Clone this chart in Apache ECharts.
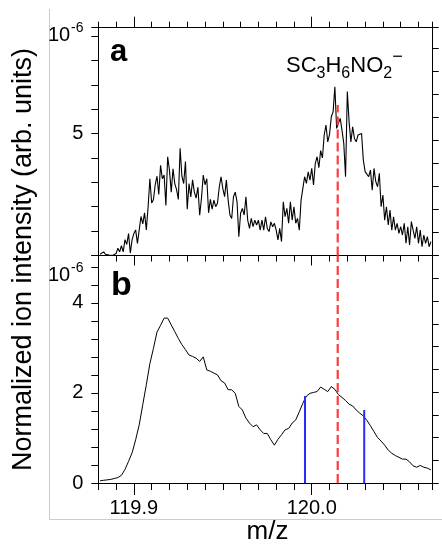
<!DOCTYPE html>
<html>
<head>
<meta charset="utf-8">
<script src="https://cdn.jsdelivr.net/npm/echarts@6/dist/echarts.min.js"></script>
<style>
  html, body { margin: 0; padding: 0; background: #fff; }
  #chart { width: 442px; height: 546px; }
</style>
</head>
<body>
<div id="chart"></div>
<script>
// spectra sampled on a regular m/z grid
var mzStart = 119.881;
var mzStepA = 0.001;
var mzStepB = 0.002;

// panel a (x 1e-6)
var intensityA = [
  0.05, 0.08, 0.15, 0.05, 0.05, 0.02, 0.0, 0.0, 0.03, 0.08,
  0.3, 0.15, 0.4, 0.15, 0.65, 0.45, 0.9, 0.1, 0.65, 0.9,
  1.05, 0.5, 1.05, 1.6, 1.3, 1.75, 1.05, 2.0, 3.15, 2.15,
  2.3, 2.9, 3.25, 2.5, 3.7, 3.15, 3.3, 2.05, 4.05, 3.5,
  2.6, 3.55, 2.95, 2.7, 2.3, 4.4, 3.25, 2.95, 3.85, 1.9,
  2.95, 2.4, 3.1, 2.6, 2.35, 2.8, 1.65, 2.35, 3.3, 2.9,
  3.15, 1.75, 2.3, 1.9, 2.27, 2.0, 2.14, 2.8, 3.23, 2.75,
  2.41, 3.09, 2.27, 1.66, 1.52, 2.41, 2.6, 2.2, 0.77, 1.73,
  1.93, 1.66, 2.41, 1.45, 1.11, 1.52, 1.18, 1.45, 1.25, 1.45,
  1.04, 1.45, 1.04, 1.59, 1.11, 0.98, 1.38, 1.18, 1.32, 1.04,
  0.64, 1.11, 0.57, 2.2, 1.59, 1.93, 1.32, 2.2, 1.45, 2.0,
  1.32, 1.52, 1.04, 2.27, 2.75, 3.23, 2.96, 3.43, 3.09, 3.57,
  2.89, 3.78, 4.05, 3.6, 4.3, 4.0, 4.94, 5.35, 4.66, 4.97,
  5.69, 5.89, 6.92, 5.21, 5.42, 5.62, 5.14, 4.6, 3.23, 6.72,
  5.48, 4.66, 5.28, 4.8, 4.66, 4.94, 4.87, 5.0, 3.91, 3.44,
  3.37, 3.23, 3.5, 2.68, 3.57, 3.03, 2.82, 3.37, 2.0, 2.48,
  1.45, 2.0, 1.25, 1.86, 1.04, 1.59, 1.04, 1.32, 0.91, 1.18,
  0.84, 1.32, 0.5, 1.18, 0.43, 1.39, 1.04, 0.7, 1.18, 0.5,
  1.04, 0.36, 0.84, 0.5, 0.77, 0.36, 0.57
];

// panel b (x 1e-6)
var intensityB = [
  0.05, 0.06, 0.07, 0.08, 0.1, 0.12, 0.17, 0.3, 0.48, 0.67,
  0.96, 1.29, 1.74, 2.18, 2.65, 2.99, 3.35, 3.5, 3.66, 3.66,
  3.51, 3.36, 3.21, 3.07, 2.96, 2.84, 2.81, 2.77, 2.7, 2.8,
  2.51, 2.48, 2.44, 2.4, 2.27, 2.22, 2.07, 2.07, 1.99, 1.7,
  1.62, 1.44, 1.33, 1.25, 1.29, 1.18, 1.1, 1.1, 0.96, 0.84,
  0.97, 1.07, 1.18, 1.21, 1.33, 1.4, 1.58, 1.77, 1.93, 1.99,
  2.01, 2.03, 2.13, 2.08, 2.03, 2.14, 2.08, 1.96, 1.9, 1.83,
  1.75, 1.71, 1.62, 1.55, 1.49, 1.39, 1.27, 1.14, 1.01, 0.93,
  0.84, 0.73, 0.66, 0.61, 0.57, 0.53, 0.53, 0.47, 0.38, 0.35,
  0.39, 0.35, 0.33, 0.29
];

// SC3H6NO2- position and integration window
var peakMz = 120.0146;
var peakTopA = 6.17;
var peakTopB = 5.05;
var windowMz = [119.9962, 120.0295];
var windowTop = [1.93, 1.62];

// tick labels
var mzLabels = [119.9, 120.0];
var yLabelsA = [5];
var yLabelsB = [0, 2, 4];

var FONT = '"Liberation Sans", Arial, sans-serif';

function toPairs(vals, step) {
  return vals.map(function (v, i) {
    return [+(mzStart + i * step).toFixed(3), v];
  });
}

var chartDom = document.getElementById('chart');
var myChart = echarts.init(chartDom, null, { renderer: 'canvas' });

var line = { show: true, onZero: false, lineStyle: { color: '#000', width: 1 } };
var noLine = { show: false, onZero: false };
var tickStyle = { color: '#000', width: 1 };
var noLabel = { show: false };
var labelStyle = { color: '#000', fontSize: 20, fontFamily: FONT, margin: 15 };

function mzAxis(gridIndex, position, axisLine, axisTick, axisLabel, interval) {
  var ax = {
    type: 'value', gridIndex: gridIndex, position: position,
    min: 119.88, max: 120.068,
    axisLine: axisLine, axisTick: axisTick, axisLabel: axisLabel,
    splitLine: { show: false }
  };
  if (interval) ax.interval = interval;
  return ax;
}

var option = {
  animation: false,
  backgroundColor: '#fff',
  grid: [
    { left: 98.3, top: 27.7, width: 334.4, height: 227.8 },
    { left: 98.3, top: 255.5, width: 334.4, height: 227.5 }
  ],
  xAxis: [
    mzAxis(0, 'bottom', line, { show: false }, noLabel),
    mzAxis(0, 'top', line, { show: true, length: 6, lineStyle: tickStyle }, noLabel, 0.01),
    mzAxis(0, 'top', noLine, { show: true, length: 11, customValues: mzLabels, lineStyle: tickStyle }, noLabel),
    mzAxis(1, 'top', line, { show: true, inside: true, length: 6, lineStyle: tickStyle }, noLabel, 0.01),
    mzAxis(1, 'top', noLine, { show: true, inside: true, length: 10, customValues: mzLabels, lineStyle: tickStyle }, noLabel),
    mzAxis(1, 'bottom', line, { show: true, length: 7, lineStyle: tickStyle }, noLabel, 0.01),
    mzAxis(1, 'bottom', noLine, { show: true, length: 12, customValues: mzLabels, lineStyle: tickStyle },
      Object.assign({ show: true, customValues: mzLabels, formatter: function (v) { return v.toFixed(1); } }, labelStyle))
  ],
  yAxis: [
    {
      type: 'value', gridIndex: 0, position: 'left', min: 0, max: 9.34, interval: 1,
      axisLine: line, axisTick: { show: true, length: 7, lineStyle: tickStyle },
      axisLabel: Object.assign({
        formatter: function (v) { return yLabelsA.indexOf(Math.round(v * 1000) / 1000) >= 0 ? String(v) : ''; }
      }, labelStyle),
      splitLine: { show: false }
    },
    {
      type: 'value', gridIndex: 0, position: 'right', min: 0, max: 9.9, interval: 1,
      axisLine: line, axisTick: { show: true, length: 6, lineStyle: tickStyle },
      axisLabel: noLabel, splitLine: { show: false }
    },
    {
      type: 'value', gridIndex: 1, position: 'left', min: 0, max: 5.05, interval: 0.4,
      axisLine: line, axisTick: { show: true, length: 7, lineStyle: tickStyle },
      axisLabel: Object.assign({
        formatter: function (v) {
          var r = Math.round(v * 1000) / 1000;
          return yLabelsB.indexOf(r) >= 0 ? String(r) : '';
        }
      }, labelStyle),
      splitLine: { show: false }
    },
    {
      type: 'value', gridIndex: 1, position: 'right', min: 0, max: 10, interval: 1,
      axisLine: line, axisTick: { show: true, length: 6, lineStyle: tickStyle },
      axisLabel: noLabel, splitLine: { show: false }
    }
  ],
  series: [
    {
      type: 'line', xAxisIndex: 0, yAxisIndex: 0, data: toPairs(intensityA, mzStepA),
      symbol: 'none', lineStyle: { color: '#000', width: 1.1 }, silent: true
    },
    {
      type: 'line', xAxisIndex: 5, yAxisIndex: 2, data: toPairs(intensityB, mzStepB),
      symbol: 'none', lineStyle: { color: '#000', width: 1 }, silent: true
    },
    {
      type: 'line', xAxisIndex: 0, yAxisIndex: 0, data: [[peakMz, 0], [peakMz, peakTopA]],
      symbol: 'none', lineStyle: { color: '#ff3b3b', width: 2.2, type: [9, 4] }, z: 5, silent: true
    },
    {
      type: 'line', xAxisIndex: 5, yAxisIndex: 2, data: [[peakMz, 0], [peakMz, peakTopB]],
      symbol: 'none', lineStyle: { color: '#ff3b3b', width: 2.2, type: [9, 4] }, z: 5, silent: true
    },
    {
      type: 'line', xAxisIndex: 5, yAxisIndex: 2, data: [[windowMz[0], 0], [windowMz[0], windowTop[0]]],
      symbol: 'none', lineStyle: { color: '#2a2aff', width: 2 }, z: 4, silent: true
    },
    {
      type: 'line', xAxisIndex: 5, yAxisIndex: 2, data: [[windowMz[1], 0], [windowMz[1], windowTop[1]]],
      symbol: 'none', lineStyle: { color: '#2a2aff', width: 2 }, z: 4, silent: true
    }
  ],
  graphic: [
    { type: 'line', shape: { x1: 49.5, y1: 9, x2: 49.5, y2: 519.5 }, style: { stroke: '#cccccc', lineWidth: 1 } },
    { type: 'line', shape: { x1: 49.5, y1: 519.5, x2: 442, y2: 519.5 }, style: { stroke: '#cccccc', lineWidth: 1 } },
    { type: 'text', x: 48, y: 35.5, style: { text: '10', font: '20px ' + FONT, fill: '#000', verticalAlign: 'middle', textVerticalAlign: 'middle' } },
    { type: 'text', x: 71, y: 28, style: { text: '-6', font: '14px ' + FONT, fill: '#000', verticalAlign: 'middle', textVerticalAlign: 'middle' } },
    { type: 'text', x: 48, y: 275.5, style: { text: '10', font: '20px ' + FONT, fill: '#000', verticalAlign: 'middle', textVerticalAlign: 'middle' } },
    { type: 'text', x: 71, y: 268, style: { text: '-6', font: '14px ' + FONT, fill: '#000', verticalAlign: 'middle', textVerticalAlign: 'middle' } },
    { type: 'text', x: 110, y: 52, style: { text: 'a', font: 'bold 31px ' + FONT, fill: '#000', verticalAlign: 'middle', textVerticalAlign: 'middle' } },
    { type: 'text', x: 111, y: 286, style: { text: 'b', font: 'bold 34px ' + FONT, fill: '#000', verticalAlign: 'middle', textVerticalAlign: 'middle' } },
    {
      type: 'text', x: 24, y: 259.5, rotation: Math.PI / 2,
      style: {
        text: 'Normalized ion intensity (arb. units)', font: '27px ' + FONT, fill: '#000',
        align: 'center', textAlign: 'center', verticalAlign: 'middle', textVerticalAlign: 'middle'
      }
    },
    {
      type: 'text', x: 267.5, y: 532,
      style: {
        text: 'm/z', font: '26px ' + FONT, fill: '#000',
        align: 'center', textAlign: 'center', verticalAlign: 'middle', textVerticalAlign: 'middle'
      }
    },
    {
      type: 'text', x: 286, y: 66,
      style: {
        text: '{m|SC}{s|3}{m|H}{s|6}{m|NO}{s|2}{p|\u2212}',
        verticalAlign: 'middle', textVerticalAlign: 'middle', fill: '#000',
        rich: {
          m: { fontSize: 22, fontFamily: FONT, lineHeight: 22, verticalAlign: 'middle', fill: '#000' },
          s: { fontSize: 16, fontFamily: FONT, lineHeight: 16, padding: [16, 0, 0, 0], verticalAlign: 'middle', fill: '#000' },
          p: { fontSize: 18, fontFamily: FONT, lineHeight: 18, padding: [0, 0, 18, 0], verticalAlign: 'middle', fill: '#000' }
        }
      }
    }
  ]
};

myChart.setOption(option, true);
</script>
</body>
</html>
